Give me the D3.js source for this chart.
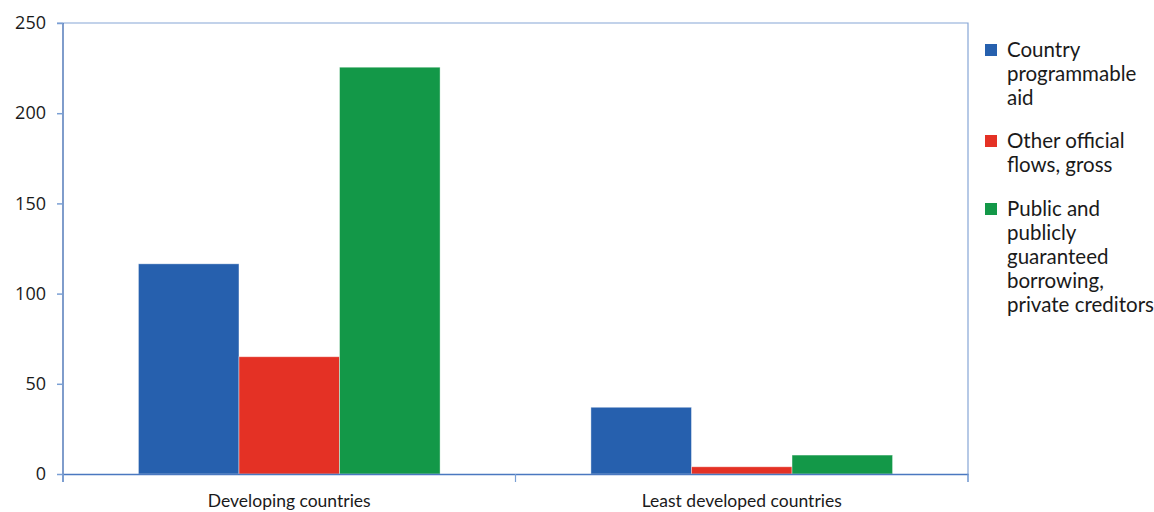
<!DOCTYPE html>
<html>
<head>
<meta charset="utf-8">
<script src="https://cdn.jsdelivr.net/npm/d3@7"></script>
<style>
  body { margin: 0; background: #fff; }
  text { font-family: Lato, "Noto Sans", sans-serif; fill: #1a1a1a; }
</style>
</head>
<body>
<div id="main"></div>
<script>
var width = 1154,
    height = 512;

// data
var categories = ["Developing countries", "Least developed countries"];
var seriesNames = ["Country programmable aid", "Other official flows, gross", "Public and publicly guaranteed borrowing, private creditors"];
var aidValues = [116.5, 37];
var officialValues = [65, 4];
var borrowingValues = [225.5, 10.5];
var yTicks = [0, 50, 100, 150, 200, 250];
var legendLines = [
  ["Country", "programmable", "aid"],
  ["Other official", "flows, gross"],
  ["Public and", "publicly", "guaranteed", "borrowing,", "private creditors"]
];
var colors = ["#2660ae", "#e43125", "#139848"];

var margin = { left: 63, right: 186, top: 23, bottom: 38 };

var svg = d3.select("#main").append("svg")
    .attr("width", width)
    .attr("height", height);

var x0 = d3.scaleBand()
    .domain(categories)
    .range([margin.left, width - margin.right]);

var x1 = d3.scaleBand()
    .domain(d3.range(3))
    .range([0, x0.bandwidth()])
    .paddingOuter(0.75)
    .paddingInner(0);

var y = d3.scaleLinear()
    .domain([0, 250])
    .range([height - margin.bottom, margin.top]);

var rows = categories.map(function(c, i) {
  return { cat: c, vals: [aidValues[i], officialValues[i], borrowingValues[i]] };
});

// plot frame (top + right, light blue)
svg.append("path")
    .attr("d", "M" + (margin.left - 6) + "," + y(250) + "H" + x0.range()[1] + "V" + (y(0) + 8))
    .attr("fill", "none")
    .attr("stroke", "#86a6d6")
    .attr("stroke-width", 1.2);

// bars
var groups = svg.selectAll("g.cat")
  .data(rows)
  .enter().append("g")
    .attr("class", "cat")
    .attr("transform", function(d) { return "translate(" + x0(d.cat) + ",0)"; });

groups.selectAll("rect")
  .data(function(d) { return d.vals; })
  .enter().append("rect")
    .attr("x", function(d, i) { return x1(i); })
    .attr("width", x1.bandwidth())
    .attr("y", function(d) { return y(d); })
    .attr("height", function(d) { return y(0) - y(d); })
    .attr("fill", function(d, i) { return colors[i]; })
    .attr("stroke", "rgba(255,255,255,0.5)")
    .attr("stroke-width", 0.8);

// y axis
var yAxis = svg.append("g")
    .attr("transform", "translate(" + margin.left + ",0)")
    .call(d3.axisLeft(y).tickValues(yTicks).tickSize(6).tickPadding(11));
yAxis.select(".domain")
    .attr("d", "M0," + y(250) + "V" + (y(0) + 8))
    .attr("stroke", "#2a5ba8").attr("stroke-width", 1.2);
yAxis.selectAll(".tick line").attr("stroke", "#7a9fd4").attr("stroke-width", 1.5);
yAxis.selectAll(".tick text")
    .style("font-size", "18px")
    .style("font-family", "'Open Sans', sans-serif")
    .attr("fill", "#1a1a1a");

// x axis
var xAxis = svg.append("g")
    .attr("transform", "translate(0," + y(0) + ")")
    .call(d3.axisBottom(x0).tickSize(0).tickPadding(24));
xAxis.select(".domain").attr("stroke", "#4a78c0").attr("stroke-width", 1.5);
xAxis.selectAll(".tick text")
    .attr("y", 33)
    .attr("dy", null)
    .style("font-size", "17.5px")
    .attr("fill", "#333");

// boundary ticks between categories
var edges = [x0.range()[0], x0(categories[1]), x0.range()[1]];
svg.selectAll("line.edge")
  .data(edges)
  .enter().append("line")
    .attr("class", "edge")
    .attr("x1", function(d) { return d; })
    .attr("x2", function(d) { return d; })
    .attr("y1", y(0))
    .attr("y2", y(0) + 8)
    .attr("stroke", "#7a9fd4")
    .attr("stroke-width", 1.2);

// legend
var legendTops = [50, 141, 209];
var legend = svg.append("g").attr("class", "legend");
legendLines.forEach(function(lines, i) {
  legend.append("rect")
    .attr("x", 985)
    .attr("y", legendTops[i] - 6)
    .attr("width", 12)
    .attr("height", 12)
    .attr("fill", colors[i]);
  legend.selectAll(null)
    .data(lines)
    .enter().append("text")
      .attr("x", 1007)
      .attr("y", function(d, j) { return legendTops[i] + j * 24; })
      .attr("dy", "0.35em")
      .style("font-size", "20.5px")
      .text(function(d) { return d; });
});
</script>
</body>
</html>
